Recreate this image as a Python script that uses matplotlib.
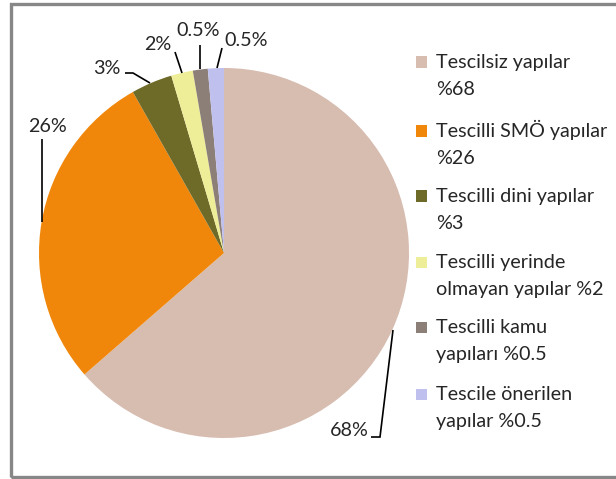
import matplotlib
matplotlib.use("Agg")
import matplotlib.pyplot as plt
from matplotlib.patches import Rectangle

# ---- data ----
categories = ["Tescilsiz yapılar", "Tescilli SMÖ yapılar", "Tescilli dini yapılar",
              "Tescilli yerinde olmayan yapılar", "Tescilli kamu yapıları",
              "Tescile önerilen yapılar"]
legend_line1 = ["Tescilsiz yapılar", "Tescilli SMÖ yapılar", "Tescilli dini yapılar",
                "Tescilli yerinde", "Tescilli kamu", "Tescile önerilen"]
legend_line2 = ["%68", "%26", "%3", "olmayan yapılar %2", "yapıları %0.5", "yapılar %0.5"]
slice_sizes = [63.6, 28.2, 3.6, 1.9, 1.3, 1.4]
pct_labels = ["68%", "26%", "3%", "2%", "0.5%", "0.5%"]
colors = ["#D7BCB0", "#F0870A", "#6E6A28", "#EEEE99", "#8C7F78", "#C0C0EE"]

W, H = 616, 479
FONT = "Lato"
FS = 14.2
TXT = "#262626"

fig = plt.figure(figsize=(W / 100, H / 100), dpi=100)


def fx(px):
    return px / W


def fy(py):
    return 1 - py / H


# frame around chart area
fig.patches.append(Rectangle((fx(11), fy(477)), (640 - 11) / W, (477 - 4) / H,
                             transform=fig.transFigure, fill=False,
                             edgecolor="#878787", linewidth=2.4))

# pie axes: centre (224,253) px, radius 185 px
CX, CY, R = 224, 253, 185
ax = fig.add_axes([fx(CX - R), fy(CY + R), 2 * R / W, 2 * R / H])
ax.pie(slice_sizes, colors=colors, startangle=90, counterclock=False,
       wedgeprops=dict(linewidth=0))
ax.set_xlim(-1, 1)
ax.set_ylim(-1, 1)
ax.set_aspect("auto")
ax.axis("off")


def d(px, py):
    return ((px - CX) / R, (CY - py) / R)


# leader lines (pixel paths) and label anchor positions
leaders = [
    [(371, 437), (380, 437), (393, 330)],
    [(42, 139), (42, 222)],
    [(125, 73), (133, 73), (150, 83)],
    [(175, 52), (182, 73)],
    [(200, 45), (200, 69)],
    [(222, 48), (217, 68)],
]
label_pos = [(349, 430), (47, 127), (107, 69), (158, 44), (198, 31), (246, 41)]

for path, (lx, ly), lab in zip(leaders, label_pos, pct_labels):
    xs = [d(*p)[0] for p in path]
    ys = [d(*p)[1] for p in path]
    ax.plot(xs, ys, color="black", linewidth=1.2, clip_on=False,
            solid_capstyle="butt", solid_joinstyle="miter")
    tx, ty = d(lx, ly)
    ax.text(tx, ty, lab, ha="center", va="center", fontsize=FS,
            family=FONT, color=TXT, clip_on=False)

# legend (manual)
centers = [62, 131, 196, 262, 327, 394]
for c, l1, l2, col in zip(centers, legend_line1, legend_line2, colors):
    fig.patches.append(Rectangle((fx(416), fy(c + 5.5)), 11 / W, 11 / H,
                                 transform=fig.transFigure, facecolor=col,
                                 edgecolor="none"))
    fig.text(fx(436), fy(c + 6), l1, fontsize=FS, family=FONT, color=TXT,
             ha="left", va="baseline")
    fig.text(fx(436), fy(c + 33), l2, fontsize=FS, family=FONT, color=TXT,
             ha="left", va="baseline")

fig.savefig("out.png", dpi=100, facecolor="white")
